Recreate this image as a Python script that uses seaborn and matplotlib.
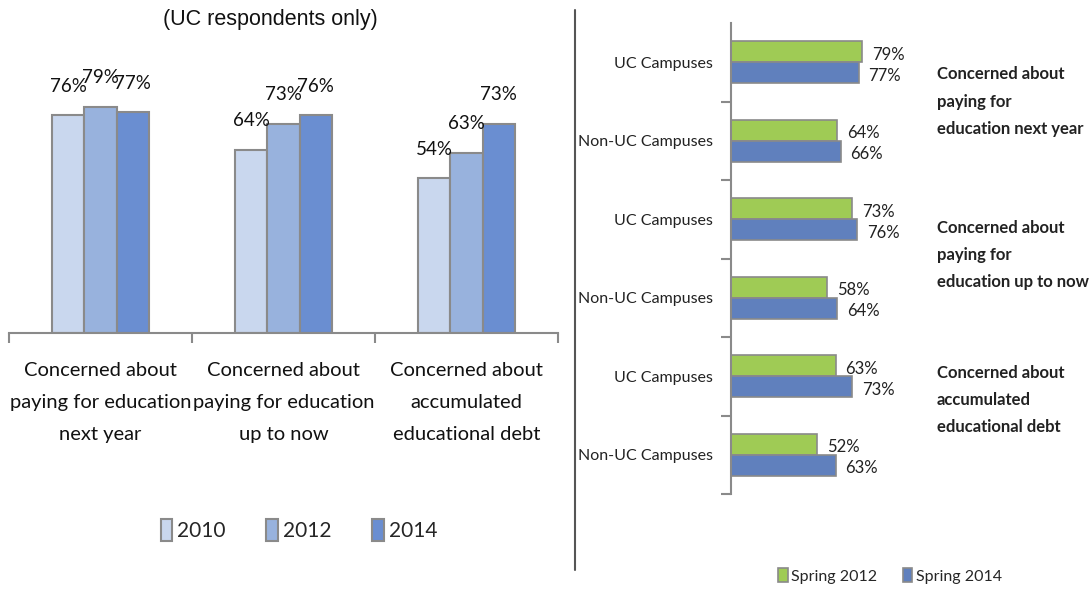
import matplotlib
matplotlib.use("Agg")
import matplotlib.pyplot as plt
import matplotlib.transforms as mtransforms
from matplotlib.lines import Line2D
from matplotlib.patches import Patch
import seaborn as sns
import pandas as pd
import numpy as np

# --- data: left chart (UC respondents only) ---
left_categories = ["Concerned about\npaying for education\nnext year",
                   "Concerned about\npaying for education\nup to now",
                   "Concerned about\naccumulated\neducational debt"]
left_years = ["2010", "2012", "2014"]
vals_2010 = [76, 64, 54]
vals_2012 = [79, 73, 63]
vals_2014 = [77, 76, 73]

# --- data: right chart ---
right_rows = ["UC Campuses", "Non-UC Campuses", "UC Campuses",
              "Non-UC Campuses", "UC Campuses", "Non-UC Campuses"]
right_series = ["Spring 2012", "Spring 2014"]
spring_2012 = [79, 64, 73, 58, 63, 52]
spring_2014 = [77, 66, 76, 64, 73, 63]
right_topics = ["Concerned about\npaying for\neducation next year",
                "Concerned about\npaying for\neducation up to now",
                "Concerned about\naccumulated\neducational debt"]

left_colors = ["#c9d7ee", "#98b2dd", "#6a8ed1"]
right_colors = ["#9fcb55", "#6080bd"]
EDGE = "#8a8a8a"

sns.set_theme(style="white")
plt.rcParams["font.family"] = ["Lato", "DejaVu Sans"]

W, H = 1091, 589
fig = plt.figure(figsize=(W / 100, H / 100), dpi=100)

# ---------------- left chart ----------------
ax1 = fig.add_axes([9 / W, 256 / H, 549 / W, 286.5 / H])
df_left = pd.DataFrame({
    "cat": left_categories * 3,
    "year": np.repeat(left_years, 3),
    "val": vals_2010 + vals_2012 + vals_2014,
})
sns.barplot(data=df_left, x="cat", y="val", hue="year", order=left_categories,
            hue_order=left_years, palette=left_colors, saturation=1, width=0.525,
            edgecolor=EDGE, linewidth=1.5, legend=False, ax=ax1)
for cont in ax1.containers:
    for bar in cont:
        h = bar.get_height()
        ax1.annotate(f"{h:.0f}%", (bar.get_x() + bar.get_width() / 2, h),
                     xytext=(0, 21), textcoords="offset points",
                     ha="center", va="center", fontsize=13.5, color="#111111")
ax1.set_xlim(-0.5, 2.5)
ax1.set_ylim(0, 100)
ax1.set_yticks([])
ax1.set_xlabel("")
ax1.set_ylabel("")
for s in ["top", "right", "left"]:
    ax1.spines[s].set_visible(False)
ax1.spines["bottom"].set_color(EDGE)
ax1.spines["bottom"].set_linewidth(1.5)
ax1.set_xticks(range(3))
ax1.set_xticklabels(left_categories, fontsize=14.5, linespacing=2.05, color="#111111")
ax1.tick_params(axis="x", which="major", length=0, pad=21)
ax1.set_xticks([-0.5, 0.5, 1.5, 2.5], minor=True)
ax1.tick_params(axis="x", which="minor", length=7, width=1.5, color=EDGE,
                direction="out", bottom=True)

fig.text(270 / W, 1 - 20 / H, "(UC respondents only)", ha="center", va="center",
         fontsize=15.5, family="Liberation Sans", color="#111111")

h_left = [Patch(facecolor=c, edgecolor=EDGE, linewidth=1.5) for c in left_colors]
fig.legend(h_left, left_years, loc="center", bbox_to_anchor=(299 / W, 1 - 530 / H),
           ncol=3, frameon=False, fontsize=15, handlelength=0.55, handleheight=1.2,
           handletextpad=0.25, columnspacing=1.95)

# divider
fig.add_artist(Line2D([575 / W, 575 / W], [1 - 10 / H, 1 - 570 / H],
                      color="#555555", lw=1.5))

# ---------------- right chart ----------------
ax2 = fig.add_axes([731 / W, 95 / H, 166 / W, 471 / H])
row_ids = [f"r{i}" for i in range(len(right_rows))]
df_right = pd.DataFrame({
    "row": row_ids * 2,
    "series": np.repeat(right_series, len(row_ids)),
    "val": spring_2012 + spring_2014,
})
sns.barplot(data=df_right, y="row", x="val", hue="series", order=row_ids,
            hue_order=right_series, orient="h", palette=right_colors, saturation=1,
            width=0.535, edgecolor=EDGE, linewidth=1.2, legend=False, ax=ax2)
for cont in ax2.containers:
    for bar in cont:
        w = bar.get_width()
        ax2.annotate(f"{w:.0f}%", (w, bar.get_y() + bar.get_height() / 2),
                     xytext=(7, -2), textcoords="offset points",
                     ha="left", va="center", fontsize=12, color="#222222")
ax2.set_xlim(0, 100)
ax2.set_ylim(len(row_ids) - 0.5, -0.5)
ax2.set_xticks([])
ax2.set_xlabel("")
ax2.set_ylabel("")
for s in ["top", "right", "bottom"]:
    ax2.spines[s].set_visible(False)
ax2.spines["left"].set_color(EDGE)
ax2.spines["left"].set_linewidth(1.5)
ax2.set_yticks(range(len(row_ids)))
ax2.set_yticklabels(right_rows, fontsize=11.5, color="#222222")
ax2.tick_params(axis="y", which="major", length=0, pad=13)
ax2.set_yticks(np.arange(0.5, len(row_ids), 1), minor=True)
ax2.tick_params(axis="y", which="minor", length=7, width=1.5, color=EDGE,
                direction="out", left=True)

trans = mtransforms.blended_transform_factory(ax2.transAxes, ax2.transData)
for i, txt in enumerate(right_topics):
    ypos = [0.5, 2.45, 4.3][i]
    ax2.text(1.24, ypos, txt, transform=trans, ha="left", va="center",
             fontsize=12, fontweight="bold", linespacing=1.85, color="#222222")

h_right = [Patch(facecolor=c, edgecolor=EDGE, linewidth=1.2) for c in right_colors]
fig.legend(h_right, right_series, loc="center", bbox_to_anchor=(890 / W, 1 - 576 / H),
           ncol=2, frameon=False, fontsize=11.5, handlelength=0.6, handleheight=1.0,
           handletextpad=0.2, columnspacing=1.6)

fig.savefig("out.png", dpi=100)
